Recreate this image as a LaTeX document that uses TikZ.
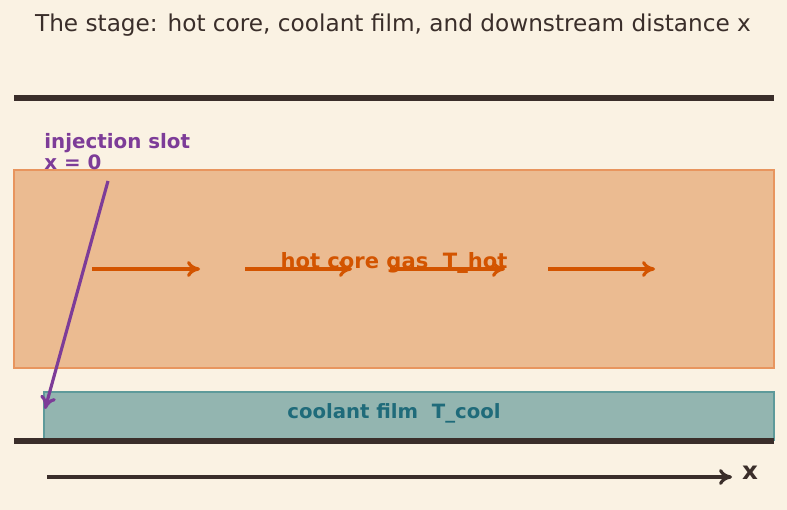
\documentclass[tikz,border=0pt]{standalone}
\usepackage{fontspec}
\setmainfont{DejaVu Sans}
\usetikzlibrary{arrows.meta, positioning}
\definecolor{cbg}{HTML}{FAF2E3}
\definecolor{cwall}{HTML}{3A2E2A}
\definecolor{chot}{HTML}{EBBB91}
\definecolor{chotedge}{HTML}{E8955E}
\definecolor{corange}{HTML}{D35400}
\definecolor{ccool}{HTML}{93B5B0}
\definecolor{ccooledge}{HTML}{5E9A9A}
\definecolor{cteal}{HTML}{1F6B7A}
\definecolor{cpurple}{HTML}{7D3C98}
\tikzset{
  every picture/.style={x=0.02cm, y=-0.02cm},
  wall/.style={draw=cwall, line width=3.4pt},
  tip/.style={-{To[length=2.6mm, width=3.2mm]}, line width=1.8pt},
  flow/.style={tip, draw=corange},
  label/.style={font=\fontsize{12}{14}\selectfont\bfseries},
  title/.style={font=\fontsize{13.2}{16}\selectfont, text=cwall},
}

\begin{document}
\begin{tikzpicture}
  \useasboundingbox[fill=cbg] (0,0) rectangle (787,510);
  % title
  \node[title] (ttl) at (393,25) {The stage: hot core, coolant film, and downstream distance x};
  % walls and layers
  \draw[wall] (14,98) -- (774,98);
  \draw[fill=chot, draw=chotedge, line width=0.6pt] (14,170) rectangle (774,368);
  \draw[fill=ccool, draw=ccooledge, line width=0.6pt] (44,392) rectangle (774,440);
  \draw[wall] (14,441) -- (774,441);
  % core flow
  \foreach \a/\b in {92/200, 245/352, 390/505, 548/655} {
    \coordinate (f\a) at (\a,269);
    \coordinate (g\a) at (\b,269);
    \draw[flow] (f\a) -- (g\a);
  }
  \node[label, text=corange] (hot) at (394,263) {hot core gas\ \ T\_hot};
  \node[label, text=cteal, font=\fontsize{11.2}{13}\selectfont\bfseries] (cool) at (394,413) {coolant film\ \ T\_cool};
  % injection slot
  \node[label, text=cpurple, align=left, anchor=north west, inner sep=0pt, font=\fontsize{11.3}{13}\selectfont\bfseries] (slot) at (44,133) {injection slot\\[-1pt]x = 0};
  \coordinate (slotfoot) at (108,181);
  \coordinate (slotend) at (45,409);
  \draw[tip, cpurple] (slotfoot) -- (slotend);
  % axis
  \coordinate (ax0) at (47,477);
  \coordinate (ax1) at (732,477);
  \draw[tip, cwall] (ax0) -- (ax1);
  \node[label, text=cwall, font=\fontsize{14}{16}\selectfont\bfseries] (xl) at (750,473) {x};
\end{tikzpicture}
\end{document}
